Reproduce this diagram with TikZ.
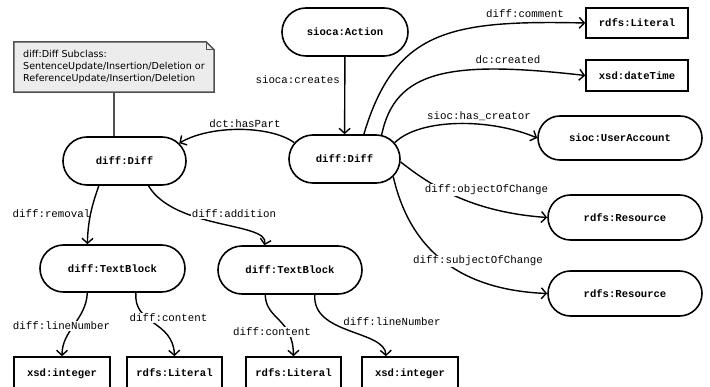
\documentclass[tikz,border=0pt]{standalone}
\usepackage{fontspec}
\newfontfamily\lmono{Liberation Mono}
\newfontfamily\dvsans{DejaVu Sans}
\usetikzlibrary{arrows.meta,shapes.misc,backgrounds}
\definecolor{notegray}{RGB}{80,80,80}
\definecolor{notefill}{RGB}{236,236,236}
\begin{document}
\begin{tikzpicture}[x=1pt,y=-1pt,
  pill/.style={rounded rectangle, draw, line width=1.6pt, inner sep=0pt,
    font=\lmono\bfseries\fontsize{10.6}{12}\selectfont},
  box/.style={rectangle, draw, line width=1.6pt, inner sep=0pt,
    font=\lmono\bfseries\fontsize{10.6}{12}\selectfont},
  cutbox/.style={box, minimum height=40, text depth=8pt},
  lbl/.style={font=\lmono\fontsize{10.8}{12}\selectfont, inner sep=1pt},
  arr/.style={line width=1.4pt, -{Straight Barb[length=5pt,width=11pt]}},
  notetext/.style={rectangle, minimum width=200, minimum height=50, align=left,
    inner sep=0pt, font=\dvsans\fontsize{9.6}{12}\selectfont},
  notedraw/.style={draw=notegray, line width=1.5pt},
]
\useasboundingbox (0,0) rectangle (710,387);
\clip (0,0) rectangle (710,387);

% note
\node[notetext] (note) at (114,67) {diff:Diff Subclass:\\SentenceUpdate/Insertion/Deletion or\\ReferenceUpdate/Insertion/Deletion};
\begin{scope}[on background layer]
\filldraw[notedraw, fill=notefill] (note.north west) -- ([xshift=-8pt]note.north east) -- ([yshift=-8pt]note.north east) -- (note.south east) -- (note.south west) -- cycle;
\end{scope}
\draw[draw=notegray, line width=1pt] ([xshift=-8pt]note.north east) -- ([xshift=-8pt,yshift=-8pt]note.north east) -- ([yshift=-8pt]note.north east);

% nodes
\node[pill, minimum width=126, minimum height=48] (act) at (345,32) {sioca:Action};
\node[pill, minimum width=111, minimum height=48] (d0) at (344.5,159) {diff:Diff};
\node[pill, minimum width=123, minimum height=48] (d1) at (124.5,161) {diff:Diff};
\node[box, minimum width=102, minimum height=30] (lit1) at (637,23) {rdfs:Literal};
\node[box, minimum width=102, minimum height=31] (dt) at (637,75.5) {xsd:dateTime};
\node[pill, minimum width=164, minimum height=44] (ua) at (620,138) {sioc:UserAccount};
\node[pill, minimum width=154, minimum height=45] (res1) at (625,217.5) {rdfs:Resource};
\node[pill, minimum width=154, minimum height=45] (res2) at (625,293.5) {rdfs:Resource};
\node[pill, minimum width=145, minimum height=47] (tb1) at (112.5,268.5) {diff:TextBlock};
\node[pill, minimum width=144, minimum height=48] (tb2) at (290,270) {diff:TextBlock};
\node[cutbox, minimum width=96] (int1) at (62,377) {xsd:integer};
\node[cutbox, minimum width=95] (lit2) at (174.5,377) {rdfs:Literal};
\node[cutbox, minimum width=95] (lit3) at (293.5,377) {rdfs:Literal};
\node[cutbox, minimum width=96] (int2) at (410,377) {xsd:integer};

% note connector
\draw[notedraw] (note.south) -- (note.south |- d1.north);

% edges
\draw[arr] (act) -- (d0);
\draw[arr] (d0.162) .. controls (270,125) and (210,125) .. (d1.18);
\draw[arr] (d0.52) .. controls (395,30) and (450,20) .. (lit1.west);
\draw[arr] (d0.33) .. controls (395,70) and (450,60) .. (dt.west);
\draw[arr] (d0.18) .. controls (420,118) and (490,118) .. (ua.west);
\draw[arr] (d0.-3) .. controls (430,185) and (470,212) .. (res1.west);
\draw[arr] (d0.-20) .. controls (410,250) and (460,290) .. (res2.west);
\draw[arr] (d1.-136) .. controls (92,205) and (88,220) .. (tb1.136);
\draw[arr] (d1.-46) .. controls (175,230) and (270,222) .. (tb2.136);
\draw[arr] (tb1.-136) .. controls (86,320) and (62,330) .. (int1.north);
\draw[arr] (tb1.-46) .. controls (133,325) and (173,320) .. (lit2.north);
\draw[arr] (tb2.-135) .. controls (266,320) and (293,318) .. (lit3.north);
\draw[arr] (tb2.-45) .. controls (312,335) and (385,330) .. ([xshift=-24pt]int2.north);

% labels
\node[lbl, anchor=east] (l_cr) at (341,80) {sioca:creates};
\node[lbl] (l_hp) at (245,124) {dct:hasPart};
\node[lbl] (l_cm) at (525,14) {diff:comment};
\node[lbl] (l_dc) at (508,60) {dc:created};
\node[lbl] (l_hc) at (479,116) {sioc:has\_creator};
\node[lbl, fill=white] (l_oc) at (486.5,190) {diff:objectOfChange};
\node[lbl, fill=white] (l_sc) at (478,261) {diff:subjectOfChange};
\node[lbl] (l_rm) at (51.5,214) {diff:removal};
\node[lbl, fill=white] (l_ad) at (234,214) {diff:addition};
\node[lbl, fill=white] (l_ln1) at (61.5,326) {diff:lineNumber};
\node[lbl, fill=white] (l_ct1) at (168.5,318) {diff:content};
\node[lbl, fill=white] (l_ct2) at (272,332) {diff:content};
\node[lbl] (l_ln2) at (392,322) {diff:lineNumber};
\end{tikzpicture}
\end{document}
